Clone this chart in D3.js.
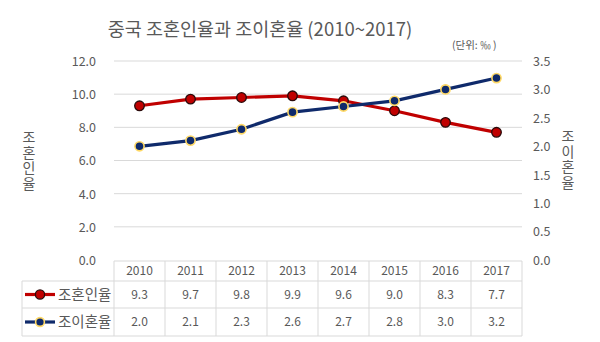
<!DOCTYPE html>
<html><head><meta charset="utf-8">
<script src="https://cdn.jsdelivr.net/npm/d3@7"></script>
<style>
html,body{margin:0;padding:0;background:#fff;}
#wrap{position:relative;width:600px;height:342px;}
text{font-family:"Noto Sans CJK KR","Noto Sans",sans-serif;}
.vlabel{position:absolute;writing-mode:vertical-rl;text-orientation:upright;
  font-family:"Noto Sans CJK KR",sans-serif;font-size:14px;letter-spacing:1.5px;
  color:#595959;line-height:16px;width:16px;}
</style></head>
<body><div id="wrap"><svg id="chart" width="600" height="342"></svg></div>
<script>
// Crude marriage and divorce rates in China, per mille
const years = ["2010","2011","2012","2013","2014","2015","2016","2017"];
const marriageRate = [9.3, 9.7, 9.8, 9.9, 9.6, 9.0, 8.3, 7.7];
const divorceRate = [2.0, 2.1, 2.3, 2.6, 2.7, 2.8, 3.0, 3.2];
const leftTicks = [0, 2, 4, 6, 8, 10, 12];
const rightTicks = [0, 0.5, 1.0, 1.5, 2.0, 2.5, 3.0, 3.5];
const seriesNames = ["조혼인율", "조이혼율"];

const svg = d3.select("#chart");
const plotLeft = 114, plotRight = 522, plotTop = 61, plotBottom = 260;
const grey = "#595959", gridCol = "#d9d9d9";
const red = "#c00000", navy = "#0f2a6b", gold = "#ffd966";

const x = d3.scaleBand().domain(years).range([plotLeft, plotRight]);
const yL = d3.scaleLinear().domain([0, 12]).range([plotBottom, plotTop]);
const yR = d3.scaleLinear().domain([0, 3.5]).range([plotBottom, plotTop]);

// title and unit
svg.append("text").attr("x", 260).attr("y", 36).attr("text-anchor", "middle")
  .attr("font-size", 18.5).attr("fill", grey).text("중국 조혼인율과 조이혼율 (2010~2017)");
svg.append("text").attr("x", 452).attr("y", 49).attr("font-size", 10.5).attr("fill", grey).text("(단위: ‰ )");

// gridlines
svg.append("g").selectAll("line").data(leftTicks.filter(d => d > 0)).join("line")
  .attr("x1", plotLeft).attr("x2", plotRight)
  .attr("y1", d => yL(d)).attr("y2", d => yL(d))
  .attr("stroke", gridCol).attr("stroke-width", 1);

// left axis
const gL = svg.append("g").attr("transform", `translate(${plotLeft - 15},0)`)
  .call(d3.axisLeft(yL).tickValues(leftTicks).tickFormat(d3.format(".1f")).tickSize(0));
gL.select(".domain").remove();
gL.selectAll("text").attr("font-size", 12.5).attr("fill", grey).attr("dy", "0.35em")
  .style("font-family", '"Noto Sans CJK KR",sans-serif');

// right axis
const gR = svg.append("g").attr("transform", `translate(${plotRight + 11},0)`)
  .call(d3.axisRight(yR).tickValues(rightTicks).tickFormat(d3.format(".1f")).tickSize(0));
gR.select(".domain").remove();
gR.selectAll("text").attr("font-size", 12.5).attr("fill", grey).attr("dy", "0.35em").attr("x", 0)
  .style("font-family", '"Noto Sans CJK KR",sans-serif');

// vertical axis titles, upright stacked characters
function stacked(label, cx, top) {
  d3.select("#wrap").append("div").attr("class", "vlabel")
    .style("left", (cx - 8) + "px").style("top", top + "px").text(label);
}
stacked(seriesNames[0], 29, 130);
stacked(seriesNames[1], 568, 129);

// lines
const cx = d => x(d) + x.bandwidth() / 2;
const lineL = d3.line().x((d, i) => cx(years[i])).y(d => yL(d));
const lineR = d3.line().x((d, i) => cx(years[i])).y(d => yR(d));

svg.append("path").datum(marriageRate).attr("d", lineL)
  .attr("fill", "none").attr("stroke", red).attr("stroke-width", 3.2);
svg.append("path").datum(divorceRate).attr("d", lineR)
  .attr("fill", "none").attr("stroke", navy).attr("stroke-width", 3.2);

svg.append("g").selectAll("circle").data(marriageRate).join("circle")
  .attr("cx", (d, i) => cx(years[i])).attr("cy", d => yL(d)).attr("r", 4.8)
  .attr("fill", red).attr("stroke", "#2a0a0a").attr("stroke-width", 1.3);
svg.append("g").selectAll("circle").data(divorceRate).join("circle")
  .attr("cx", (d, i) => cx(years[i])).attr("cy", d => yR(d)).attr("r", 4.6)
  .attr("fill", navy).attr("stroke", gold).attr("stroke-width", 1.6);

// data table
const rowTops = [261, 281, 308, 336];
const table = svg.append("g");
const legendLeft = 22;
// horizontal rules
table.append("line").attr("x1", plotLeft).attr("x2", plotRight).attr("y1", rowTops[0]).attr("y2", rowTops[0]).attr("stroke", gridCol);
[1, 2, 3].forEach(r => {
  table.append("line").attr("x1", legendLeft).attr("x2", plotRight)
    .attr("y1", rowTops[r]).attr("y2", rowTops[r]).attr("stroke", gridCol);
});
// vertical rules
table.append("line").attr("x1", legendLeft).attr("x2", legendLeft).attr("y1", rowTops[1]).attr("y2", rowTops[3]).attr("stroke", gridCol);
years.forEach(yr => {
  table.append("line").attr("x1", x(yr)).attr("x2", x(yr)).attr("y1", rowTops[0]).attr("y2", rowTops[3]).attr("stroke", gridCol);
});
table.append("line").attr("x1", plotRight).attr("x2", plotRight).attr("y1", rowTops[0]).attr("y2", rowTops[3]).attr("stroke", gridCol);

// header years
table.selectAll("text.yr").data(years).join("text").attr("class", "yr")
  .attr("x", d => cx(d)).attr("y", (rowTops[0] + rowTops[1]) / 2).attr("dy", "0.35em")
  .attr("text-anchor", "middle").attr("font-size", 12).attr("fill", grey).text(d => d);

// value rows
[marriageRate, divorceRate].forEach((vals, r) => {
  const ym = (rowTops[r + 1] + rowTops[r + 2]) / 2;
  table.selectAll(null).data(vals).join("text")
    .attr("x", (d, i) => cx(years[i])).attr("y", ym).attr("dy", "0.35em")
    .attr("text-anchor", "middle").attr("font-size", 12).attr("fill", grey)
    .text(d => d3.format(".1f")(d));
  // legend key
  const lc = r === 0 ? red : navy;
  table.append("line").attr("x1", 25).attr("x2", 55).attr("y1", ym).attr("y2", ym)
    .attr("stroke", lc).attr("stroke-width", 3.2);
  table.append("circle").attr("cx", 40).attr("cy", ym).attr("r", r === 0 ? 4.6 : 4.4)
    .attr("fill", lc).attr("stroke", r === 0 ? "#2a0a0a" : gold).attr("stroke-width", r === 0 ? 1.3 : 1.6);
  table.append("text").attr("x", 58).attr("y", ym).attr("dy", "0.35em")
    .attr("font-size", 14.5).attr("fill", grey).text(seriesNames[r]);
});
</script>
</body></html>
